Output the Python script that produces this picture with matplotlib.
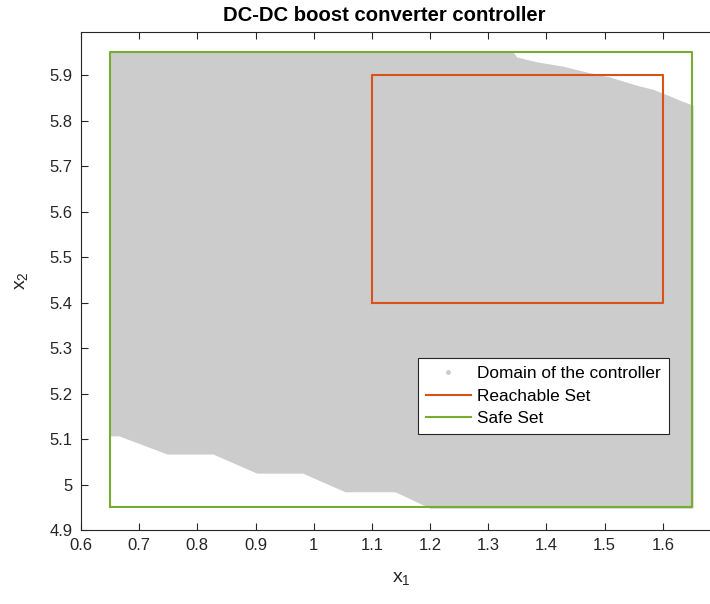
import matplotlib
matplotlib.use("Agg")
import matplotlib.pyplot as plt
from matplotlib.lines import Line2D

plt.rcParams['font.family'] = ['Liberation Sans', 'DejaVu Sans']
plt.rcParams['mathtext.default'] = 'regular'

# Controller domain: sampled x1 positions with lower / upper x2 limits
dom_x = [0.648, 0.665, 0.748, 0.827, 0.902, 0.981, 1.054, 1.140, 1.200,
         1.342, 1.349, 1.385, 1.428, 1.469, 1.509, 1.555, 1.583, 1.609,
         1.629, 1.652]
dom_lo = [5.107, 5.107, 5.067, 5.067, 5.025, 5.025, 4.984, 4.984, 4.948,
          4.948, 4.948, 4.948, 4.948, 4.948, 4.948, 4.948, 4.948, 4.948,
          4.948, 4.948]
dom_hi = [5.952, 5.952, 5.952, 5.952, 5.952, 5.952, 5.952, 5.952, 5.952,
          5.952, 5.940, 5.929, 5.920, 5.907, 5.896, 5.878, 5.869, 5.856,
          5.845, 5.834]

# Rectangular sets: [x1_min, x1_max], [x2_min, x2_max]
reach_x1 = [1.1, 1.6]
reach_x2 = [5.4, 5.9]
safe_x1 = [0.65, 1.65]
safe_x2 = [4.95, 5.95]

xticks = [0.6, 0.7, 0.8, 0.9, 1.0, 1.1, 1.2, 1.3, 1.4, 1.5, 1.6]
xticklabels = ['0.6', '0.7', '0.8', '0.9', '1', '1.1', '1.2', '1.3', '1.4', '1.5', '1.6']
yticks = [4.9, 5.0, 5.1, 5.2, 5.3, 5.4, 5.5, 5.6, 5.7, 5.8, 5.9]
yticklabels = ['4.9', '5', '5.1', '5.2', '5.3', '5.4', '5.5', '5.6', '5.7', '5.8', '5.9']

W, H = 710, 604
fig = plt.figure(figsize=(W / 100, H / 100), dpi=100)
left, right, top, bottom = 81, 721, 32, 530
ax = fig.add_axes([left / W, 1 - bottom / H, (right - left) / W, (bottom - top) / H])

gray = (0.8, 0.8, 0.8)
red = '#D95319'
green = '#77AC30'

ax.fill_between(dom_x, dom_lo, dom_hi, color=gray, linewidth=0, zorder=1)


def rect(xr, yr):
    xs = [xr[0], xr[1], xr[1], xr[0], xr[0]]
    ys = [yr[0], yr[0], yr[1], yr[1], yr[0]]
    return xs, ys


rx, ry = rect(reach_x1, reach_x2)
ax.plot(rx, ry, color=red, lw=1.5, zorder=3)
sx, sy = rect(safe_x1, safe_x2)
ax.plot(sx, sy, color=green, lw=1.5, zorder=3)

ax.set_xlim(0.6, 1.7)
ax.set_ylim(4.9, 5.995)
ax.set_xticks(xticks)
ax.set_xticklabels(xticklabels)
ax.set_yticks(yticks)
ax.set_yticklabels(yticklabels)
ax.tick_params(direction='in', length=5, width=0.8, top=True, right=True,
               labelsize=12, colors='#262626', pad=6)
for s in ax.spines.values():
    s.set_color('#262626')
    s.set_linewidth(0.8)

ax.set_title('DC-DC boost converter controller', fontsize=14.6, fontweight='bold',
             x=(384 - left) / (right - left), pad=8)
ax.set_xlabel('x$_1$', fontsize=14, color='#262626', labelpad=12)
ax.set_ylabel('x$_2$', fontsize=14, color='#262626', labelpad=14)

handles = [
    Line2D([], [], linestyle='none', marker='.', markersize=5, color=gray),
    Line2D([], [], color=red, lw=1.5),
    Line2D([], [], color=green, lw=1.5),
]
labels = ['Domain of the controller', 'Reachable Set', 'Safe Set']
leg = ax.legend(handles, labels, loc='upper left',
                bbox_to_anchor=((418 - left) / (right - left), (bottom - 358) / (bottom - top)),
                fontsize=12.4, frameon=True, fancybox=False, framealpha=1,
                edgecolor='#262626', handlelength=2.6, handletextpad=0.4,
                borderpad=0.45, labelspacing=0.45, borderaxespad=0)
leg.get_frame().set_linewidth(0.8)

fig.savefig('out.png', dpi=100)
